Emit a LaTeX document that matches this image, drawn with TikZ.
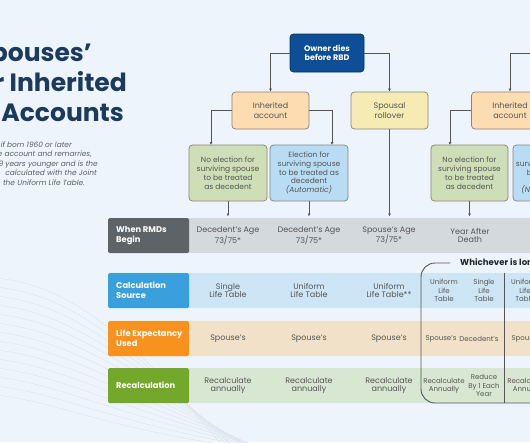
\documentclass[tikz,border=0pt]{standalone}
\usepackage{fontspec}
\setmainfont{Poppins}
\usetikzlibrary{arrows.meta}
\definecolor{bgc}{HTML}{EEF4FB}
\definecolor{titlec}{HTML}{1B3A5E}
\definecolor{txtc}{HTML}{555555}
\definecolor{subc}{HTML}{5A5F66}
\definecolor{linec}{HTML}{555555}
\definecolor{ownerf}{HTML}{0D4E96}
\definecolor{ownerd}{HTML}{0A3466}
\definecolor{peachf}{HTML}{FDDCB2}
\definecolor{yellowf}{HTML}{F5EBB3}
\definecolor{greenf}{HTML}{CEDFB8}
\definecolor{bluef}{HTML}{B8DCF4}
\definecolor{boxd}{HTML}{8A8578}
\definecolor{labgray}{HTML}{5E6367}
\definecolor{rowgray}{HTML}{D4D9DD}
\definecolor{labblue}{HTML}{3A9FDD}
\definecolor{rowblue}{HTML}{CDE5F5}
\definecolor{laborange}{HTML}{F7921E}
\definecolor{roworange}{HTML}{F1E1C8}
\definecolor{labgreen}{HTML}{73A82B}
\definecolor{rowgreen}{HTML}{D8E7D2}
\definecolor{wavec}{HTML}{DCE6F0}
\definecolor{darkc}{HTML}{222831}
\begin{document}
\begin{tikzpicture}[x=1pt,y=-1pt,
  fb/.style={draw=#1, rounded corners=3.5pt, line width=0.75pt, inner sep=0pt, align=center, text=txtc},
  arr/.style={draw=linec, line width=0.7pt, -{Latex[length=3pt,width=3pt]}},
  lab/.style={rounded corners=1.5pt, minimum height=35pt, minimum width=81pt, inner sep=0pt},
  labtext/.style={anchor=west, inner sep=0pt, align=left, text=white, font=\bfseries\fontsize{8.3}{9.8}\selectfont},
  bigcell/.style={align=center, text=txtc, inner sep=0pt, font=\fontsize{8}{8.8}\selectfont},
  smallcell/.style={align=center, text=txtc, inner sep=0pt, font=\fontsize{7}{8.3}\selectfont},
  ttl/.style={anchor=base east, inner sep=0pt, text=titlec, font=\bfseries\fontsize{25}{30}\selectfont},
  sub/.style={anchor=base east, inner sep=0pt, text=subc, font=\itshape\fontsize{7.4}{9}\selectfont}
]
\useasboundingbox (0,0) rectangle (530,442);
\clip (0,0) rectangle (530,442);
\fill[bgc] (0,0) rectangle (530,442);
% decorative waves
\foreach \i in {0,...,13}{
  \draw[wavec, line width=0.5pt] (-5,{278+9*\i}) .. controls (60,{284+9*\i}) and (120,{320+9*\i}) .. ({230+6*\i},455);
}
% title
\node[ttl] (t1) at (92,61) {pouses\char"0027};
\node[ttl] (t2) at (127,91) {r Inherited};
\node[ttl] (t3) at (124,121) {Accounts};
% subtitle
\node[sub] (s1) at (72,147) {if born 1960 or later};
\node[sub] (s2) at (92,156.5) {e account and remarries,};
\node[sub] (s3) at (98,166) {9 years younger and is the};
\node[sub] (s4) at (97,175.5) {calculated with the Joint};
\node[sub] (s5) at (85,185) {the Uniform Life Table.};
% flow boxes
\node[fb=ownerd, fill=ownerf, minimum width=74pt, minimum height=38pt, text=white, font=\bfseries\fontsize{8}{9.4}\selectfont] (owner) at (327,53) {Owner dies\\before RBD};
\node[fb=boxd, fill=peachf, minimum width=77pt, minimum height=37pt, font=\fontsize{8}{9.3}\selectfont] (inh1) at (270.5,110.5) {Inherited\\account};
\node[fb=boxd, fill=yellowf, minimum width=77pt, minimum height=37pt, font=\fontsize{8}{9.3}\selectfont] (spo) at (389.5,110.5) {Spousal\\rollover};
\node[fb=boxd, fill=peachf, minimum width=77pt, minimum height=37pt, font=\fontsize{8}{9.3}\selectfont] (inh2) at (510,110.5) {Inherited\\account};
\node[fb=boxd, fill=greenf, minimum width=78pt, minimum height=56pt, font=\fontsize{7.5}{8.8}\selectfont] (g1) at (228,173) {No election for\\surviving spouse\\to be treated\\as decedent};
\node[fb=boxd, fill=bluef, minimum width=78pt, minimum height=56pt, font=\fontsize{7.5}{8.8}\selectfont] (b1) at (309,173) {Election for\\surviving spouse\\to be treated as\\decedent\\\textit{(Automatic)}};
\node[fb=boxd, fill=greenf, minimum width=77pt, minimum height=56pt, font=\fontsize{7.5}{8.8}\selectfont] (g2) at (469.5,173) {No election for\\surviving spouse\\to be treated\\as decedent};
\node[fb=boxd, fill=bluef, minimum width=78pt, minimum height=56pt, font=\fontsize{7.5}{8.8}\selectfont] (b2) at (552,173) {Election for\\surviving spouse to\\be treated as\\decedent\\\textit{(Not Automatic)}};
% connectors top
\coordinate (offR) at (545,53);
\coordinate (g1in) at (211,145);
\coordinate (b1in) at (332,145);
\coordinate (g2in) at (450,145);
\draw[arr] (owner.west) -| (inh1.north);
\draw[arr] (owner.east) -| (spo.north);
\draw[arr] (offR) -| (inh2.north);
\draw[arr] (inh1.west) -| (g1in);
\draw[arr] (inh1.east) -| (b1in);
\draw[arr] (inh2.west) -| (g2in);
% table rows
\fill[rowgray] (185,218) rectangle (545,253);
\fill[rowblue] (185,273) rectangle (545,308);
\fill[roworange] (185,321) rectangle (545,356);
\fill[rowgreen] (185,368) rectangle (545,403);
\node[lab, fill=labgray] (L1) at (148.5,235.5) {};
\node[lab, fill=labblue] (L2) at (148.5,290.5) {};
\node[lab, fill=laborange] (L3) at (148.5,338.5) {};
\node[lab, fill=labgreen] (L4) at (148.5,385.5) {};
\node[labtext] (L1t) at (116,235.5) {When RMDs\\Begin};
\node[labtext] (L2t) at (116,290.5) {Calculation\\Source};
\node[labtext] (L3t) at (116,338.5) {Life Expectancy\\Used};
\node[labtext] (L4t) at (116,385.5) {Recalculation};
% arrows down into table
\coordinate (r1top) at (0,216.5);
\draw[arr] (g1.south) -- (g1.south |- r1top);
\draw[arr] (b1.south) -- (b1.south |- r1top);
\draw[arr] (spo.south) -- (spo.south |- r1top);
\draw[arr] (g2.south) -- (g2.south |- r1top);
\draw[arr] (b2.south) -- (b2.south |- r1top);
% row 1
\node[bigcell] (c11) at (228,235.5) {Decedent’s Age\\73/75*};
\node[bigcell] (c12) at (309,235.5) {Decedent’s Age\\73/75*};
\node[bigcell] (c13) at (389,235.5) {Spouse’s Age\\73/75*};
\node[bigcell] (c14) at (470,235.5) {Year After\\Death};
% row 2
\node[bigcell] (c21) at (228,290.5) {Single\\Life Table};
\node[bigcell] (c22) at (309,290.5) {Uniform\\Life Table};
\node[bigcell] (c23) at (389,290.5) {Uniform\\Life Table**};
\node[smallcell] (c24) at (444,290.5) {Uniform\\Life\\Table};
\node[smallcell] (c25) at (484,290.5) {Single\\Life\\Table};
\node[smallcell] (c26) at (525,290.5) {Uniform\\Life\\Table};
% row 3
\node[bigcell] (c31) at (228,338.5) {Spouse’s};
\node[bigcell] (c32) at (309,338.5) {Spouse’s};
\node[bigcell] (c33) at (389,338.5) {Spouse’s};
\node[smallcell] (c34) at (441,338.5) {Spouse’s};
\node[smallcell] (c35) at (479,338.5) {Decedent’s};
\node[smallcell] (c36) at (527,338.5) {Spouse’s};
% row 4
\node[bigcell] (c41) at (228,385.5) {Recalculate\\annually};
\node[bigcell] (c42) at (309,385.5) {Recalculate\\annually};
\node[bigcell] (c43) at (389,385.5) {Recalculate\\annually};
\node[smallcell] (c44) at (444,385.5) {Recalculate\\Annually};
\node[smallcell] (c45) at (484,385.5) {Reduce\\By 1 Each\\Year};
\node[smallcell] (c46) at (528,385.5) {Recalculate\\Annually};
% bracket
\node[anchor=west, inner sep=0pt, text=darkc, font=\bfseries\fontsize{8.6}{10}\selectfont] (which) at (460,263) {Whichever is longer};
\coordinate (brk) at (450,263);
\draw[linec, line width=0.9pt, rounded corners=14pt] (brk) -| (421,403) -- (545,403);
\draw[linec, line width=0.9pt] (504,273) -- (504,403);
\end{tikzpicture}
\end{document}
